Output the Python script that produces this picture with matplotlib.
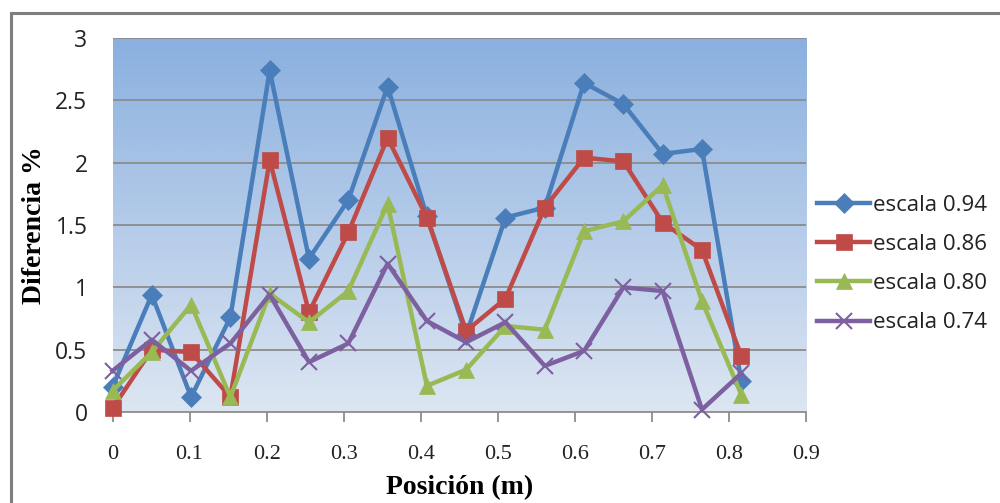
import numpy as np
import matplotlib
matplotlib.use('Agg')
import matplotlib.pyplot as plt
from matplotlib.lines import Line2D
from matplotlib.patches import Rectangle
from matplotlib.colors import LinearSegmentedColormap

# positions along the model (m)
posicion = [0.0, 0.051, 0.102, 0.153, 0.204, 0.255, 0.306, 0.357, 0.408,
            0.459, 0.510, 0.561, 0.612, 0.663, 0.714, 0.765, 0.816]

escala_094 = [0.20, 0.94, 0.12, 0.76, 2.74, 1.23, 1.70, 2.61, 1.57,
              0.62, 1.56, 1.64, 2.64, 2.47, 2.07, 2.11, 0.25]
escala_086 = [0.03, 0.50, 0.48, 0.12, 2.02, 0.80, 1.44, 2.20, 1.56,
              0.65, 0.91, 1.64, 2.04, 2.01, 1.52, 1.30, 0.45]
escala_080 = [0.17, 0.48, 0.86, 0.12, 0.95, 0.72, 0.97, 1.67, 0.21,
              0.34, 0.69, 0.66, 1.45, 1.53, 1.82, 0.89, 0.14]
escala_074 = [0.33, 0.58, 0.33, 0.55, 0.94, 0.40, 0.55, 1.19, 0.73,
              0.56, 0.72, 0.37, 0.49, 1.00, 0.97, 0.02, 0.31]

series_names = ['escala 0.94', 'escala 0.86', 'escala 0.80', 'escala 0.74']
x_ticks = [0, 0.1, 0.2, 0.3, 0.4, 0.5, 0.6, 0.7, 0.8, 0.9]
y_ticks = [0, 0.5, 1, 1.5, 2, 2.5, 3]

colors = ['#4A7EBB', '#BE4B48', '#98B954', '#7D60A0']
markers = ['D', 's', '^', 'x']
msizes = [10, 12, 12, 12]

fig = plt.figure(figsize=(10, 5.03), dpi=100)
fig.patch.set_facecolor('white')

# outer chart border (cropped on right and bottom)
fig.add_artist(Rectangle((0.011, -0.05), 1.1, 1.05 - 13 / 503, transform=fig.transFigure,
                         fill=False, edgecolor='#7F7F7F', linewidth=2.2, zorder=0))

ax = fig.add_axes([0.1125, 1 - 412 / 503, 0.6935, (412 - 38) / 503])

# gradient background for the plot area
cmap = LinearSegmentedColormap.from_list('bg', ['#DDE6F2', '#B4CBE9', '#8AB0DF'])
grad = np.linspace(0, 1, 256).reshape(-1, 1)
ax.imshow(grad, extent=[0, 1, 0, 1], transform=ax.transAxes, cmap=cmap,
          origin='lower', aspect='auto', zorder=0)

ax.set_xlim(0, 0.9)
ax.set_ylim(0, 3)

for yv in y_ticks[1:]:
    ax.axhline(yv, color='#8C8C8C', linewidth=1.3, zorder=1)

data = [escala_094, escala_086, escala_080, escala_074]
for vals, c, m, ms in zip(data, colors, markers, msizes):
    mew = 1.5 if m == 'x' else 0.5
    ax.plot(posicion, vals, color=c, linewidth=3.2, marker=m, markersize=ms,
            markeredgecolor=c, markerfacecolor=c, markeredgewidth=mew,
            zorder=3, clip_on=False)

for side in ['left', 'right', 'top']:
    ax.spines[side].set_visible(False)
ax.spines['bottom'].set_color('#8C8C8C')
ax.spines['bottom'].set_linewidth(1.3)

ax.set_xticks(x_ticks)
ax.set_xticklabels(['0' if v == 0 else str(v) for v in x_ticks],
                   fontfamily='Liberation Serif', fontsize=16, color='#222222')
ax.set_yticks(y_ticks)
ax.set_yticklabels([str(v) for v in y_ticks], fontfamily='Open Sans',
                   fontsize=16.5, color='#222222')
ax.tick_params(axis='x', direction='out', length=7, width=1.3, color='#8C8C8C', pad=17)
ax.tick_params(axis='y', length=0, pad=18)

ax.set_ylabel('Diferencia %', fontfamily='Liberation Serif', fontweight='bold',
              fontsize=20, va='center')
ax.yaxis.set_label_coords(-0.112, 0.5)
ax.set_xlabel('Posición (m)', fontfamily='Liberation Serif', fontweight='bold',
              fontsize=20, va='center')
ax.xaxis.set_label_coords(0.5, -0.203)

handles = [Line2D([0], [0], color=c, linewidth=3.2, marker=m, markersize=ms,
                  markerfacecolor=c, markeredgecolor=c,
                  markeredgewidth=1.5 if m == 'x' else 0.5)
           for c, m, ms in zip(colors, markers, msizes)]
leg = fig.legend(handles, series_names, loc='center left',
                 bbox_to_anchor=(0.797, 0.475), frameon=False,
                 prop={'family': 'Open Sans', 'size': 16},
                 handlelength=2.4, handletextpad=0.1, labelspacing=0.82)
for t in leg.get_texts():
    t.set_color('#222222')

fig.savefig('out.png', dpi=100)
